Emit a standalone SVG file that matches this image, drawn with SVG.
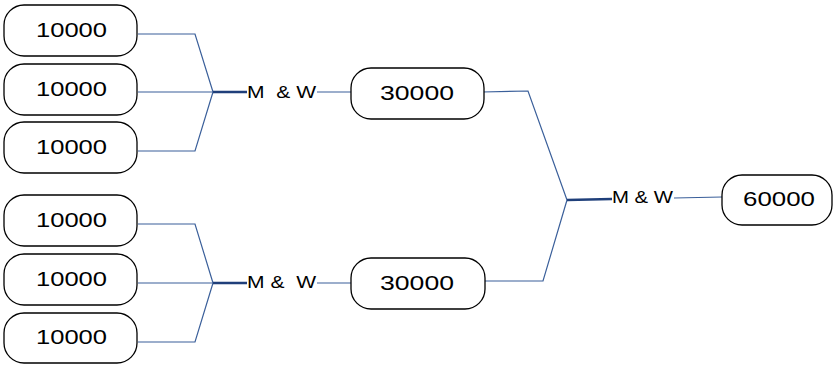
<svg xmlns="http://www.w3.org/2000/svg" width="837" height="365" viewBox="0 0 837 365">
<style>
.box{fill:#fff;stroke:#000;stroke-width:1.3}
.num{font-family:"Liberation Sans",Arial,sans-serif;font-size:19.5px;fill:#000;text-anchor:start}
.lbl{font-family:"Liberation Sans",Arial,sans-serif;font-size:16px;fill:#000;white-space:pre}
.ln{fill:none;stroke:#3A5F9A;stroke-width:1.2}
.hub{fill:none;stroke:#1F3F7A;stroke-width:2.5}
</style>
<rect width="837" height="365" fill="#fff"/>
<g id="connectors">
<polyline class="ln" points="138,34 195,34 213,92"/>
<line class="ln" x1="138" y1="92" x2="213" y2="92"/>
<polyline class="ln" points="138,151 195,151 213,92"/>
<line class="hub" x1="213" y1="92" x2="247" y2="92"/>
<line class="ln" x1="317" y1="92" x2="351" y2="92"/>
<polyline class="ln" points="138,224 195,224 213,283"/>
<line class="ln" x1="138" y1="283" x2="213" y2="283"/>
<polyline class="ln" points="138,342 195,342 213,283"/>
<line class="hub" x1="213" y1="283" x2="247" y2="283"/>
<line class="ln" x1="317" y1="283" x2="351" y2="283"/>
<polyline class="ln" points="482,92 528,91 567,200"/>
<polyline class="ln" points="485,281 543,281 567,200"/>
<line class="hub" x1="567" y1="200" x2="612" y2="199"/>
<line class="ln" x1="674" y1="198" x2="722" y2="197"/>
</g>
<g id="n1"><rect class="box" x="4" y="5" width="133" height="51" rx="20"/><text class="num" x="36" y="37" textLength="71" lengthAdjust="spacingAndGlyphs">10000</text></g>
<g id="n2"><rect class="box" x="4" y="64" width="133" height="51" rx="20"/><text class="num" x="36" y="96" textLength="71" lengthAdjust="spacingAndGlyphs">10000</text></g>
<g id="n3"><rect class="box" x="4" y="122" width="133" height="51" rx="20"/><text class="num" x="36" y="154" textLength="71" lengthAdjust="spacingAndGlyphs">10000</text></g>
<g id="n4"><rect class="box" x="4" y="195" width="133" height="51" rx="20"/><text class="num" x="36" y="227" textLength="71" lengthAdjust="spacingAndGlyphs">10000</text></g>
<g id="n5"><rect class="box" x="4" y="254" width="133" height="51" rx="20"/><text class="num" x="36" y="286" textLength="71" lengthAdjust="spacingAndGlyphs">10000</text></g>
<g id="n6"><rect class="box" x="4" y="313" width="133" height="50" rx="20"/><text class="num" x="36" y="344" textLength="71" lengthAdjust="spacingAndGlyphs">10000</text></g>
<g id="mw1"><text class="lbl" x="247" y="98" textLength="69" lengthAdjust="spacingAndGlyphs" xml:space="preserve">M  &amp; W</text></g>
<g id="mw2"><text class="lbl" x="247" y="288" textLength="69" lengthAdjust="spacingAndGlyphs" xml:space="preserve">M &amp;  W</text></g>
<g id="n7"><rect class="box" x="351" y="68" width="133" height="51" rx="20"/><text class="num" x="380" y="100" textLength="74" lengthAdjust="spacingAndGlyphs">30000</text></g>
<g id="n8"><rect class="box" x="351" y="258" width="134" height="51" rx="20"/><text class="num" x="380" y="290" textLength="74" lengthAdjust="spacingAndGlyphs">30000</text></g>
<g id="mw3"><text class="lbl" x="612" y="203" textLength="61" lengthAdjust="spacingAndGlyphs">M &amp; W</text></g>
<g id="n9"><rect class="box" x="722" y="175" width="110" height="50" rx="20"/><text class="num" x="743" y="206" textLength="72" lengthAdjust="spacingAndGlyphs">60000</text></g>
</svg>
